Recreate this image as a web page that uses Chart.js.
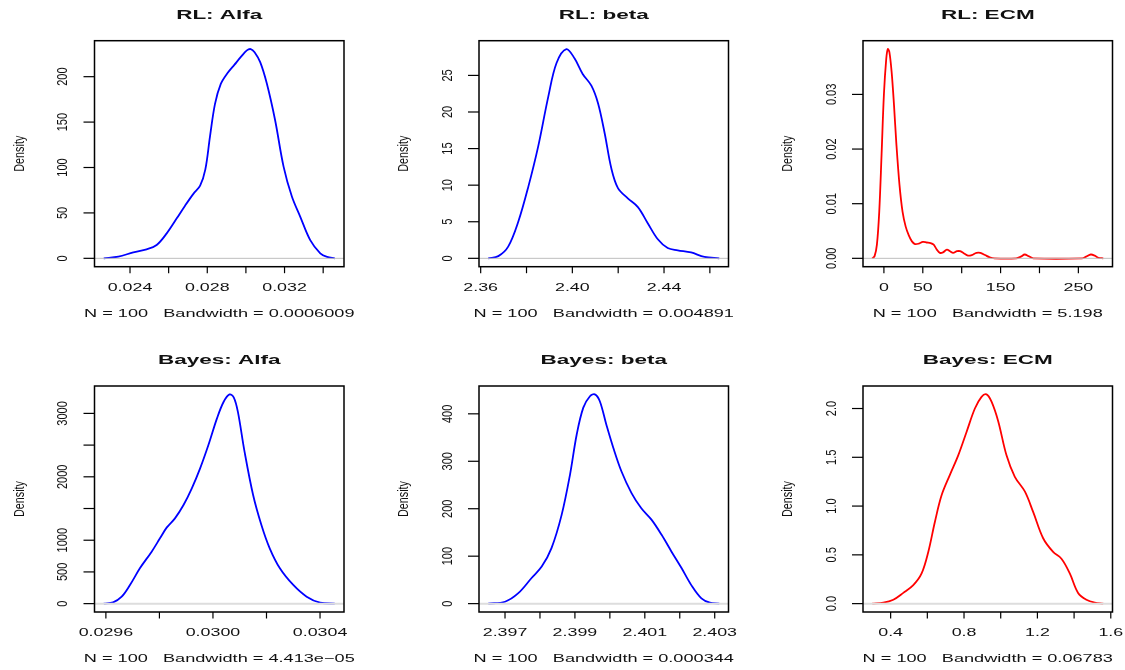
<!DOCTYPE html>
<html>
<head>
<meta charset="utf-8">
<script src="https://cdn.jsdelivr.net/npm/chart.js@4.4.0/dist/chart.umd.min.js"></script>
<style>
  html, body { margin: 0; padding: 0; background: #fff; overflow: hidden; }
  #wrap { position: relative; width: 1125px; height: 670px; }
  canvas { position: absolute; }
</style>
</head>
<body>
<div id="wrap"></div>
<script>
// density estimates, read off curve by curve
const rlAlfaX = [0.02264, 0.02340, 0.02417, 0.02486, 0.02538, 0.02590, 0.02642, 0.02685, 0.02728, 0.02763, 0.02790, 0.02814, 0.02840, 0.02870, 0.02905, 0.02940, 0.02975, 0.03005, 0.03025, 0.03045, 0.03074, 0.03108, 0.03151, 0.03195, 0.03238, 0.03281, 0.03333, 0.03385, 0.03420, 0.03460];
const rlAlfaY = [0, 1.8, 6.6, 9.9, 14.7, 27.5, 44, 58, 71, 80, 98, 134, 170, 192, 204, 213, 222, 229, 230.4, 227, 216, 192.7, 152.3, 101, 68, 46, 20, 5.5, 1.5, 0];

const rlBetaX = [2.3633, 2.3677, 2.3720, 2.3764, 2.3808, 2.3851, 2.3895, 2.3931, 2.3974, 2.4010, 2.4045, 2.4083, 2.4112, 2.4141, 2.4170, 2.4199, 2.4242, 2.4286, 2.4329, 2.4373, 2.4416, 2.4460, 2.4518, 2.4576, 2.4641];
const rlBetaY = [0, 0.3, 1.6, 5.0, 9.8, 15.3, 22.1, 26.7, 28.6, 27.3, 25.2, 23.6, 21.2, 17.1, 12.3, 9.6, 8.2, 7.0, 4.8, 2.6, 1.4, 1.1, 0.8, 0.2, 0];

const rlEcmX = [-15, -12, -9, -6, -3, 0, 3, 5, 7, 10, 13, 16, 20, 24, 28, 32, 36, 40, 45, 50, 55, 60, 64, 68, 72, 76, 81, 85, 89, 94, 98, 103, 108, 113, 119, 124, 130, 136, 142, 170, 176, 181, 186, 192, 255, 260, 266, 271, 276, 282];
const rlEcmY = [0, 0.0004, 0.0025, 0.0085, 0.019, 0.030, 0.0365, 0.0383, 0.0378, 0.034, 0.028, 0.021, 0.0135, 0.0085, 0.0058, 0.0042, 0.0031, 0.0026, 0.0027, 0.0030, 0.0029, 0.0028, 0.0025, 0.0016, 0.0010, 0.0011, 0.0016, 0.0013, 0.0010, 0.0013, 0.0013, 0.0009, 0.0005, 0.0006, 0.0010, 0.0010, 0.0006, 0.0002, 0, 0, 0.0003, 0.0007, 0.0004, 0, 0, 0.0003, 0.0007, 0.0005, 0.0001, 0];

const bayesAlfaX = [0.029592, 0.029627, 0.029659, 0.029690, 0.029727, 0.029771, 0.029802, 0.029827, 0.029858, 0.029890, 0.029921, 0.029952, 0.029983, 0.030015, 0.030040, 0.030062, 0.030078, 0.030093, 0.030118, 0.030150, 0.030181, 0.030212, 0.030250, 0.030300, 0.030350, 0.030400, 0.030455];
const bayesAlfaY = [0, 21, 110, 294, 557, 820, 1030, 1198, 1345, 1555, 1818, 2133, 2501, 2922, 3184, 3300, 3250, 3027, 2396, 1713, 1240, 872, 557, 294, 110, 16, 0];

const bayesBetaX = [2.39652, 2.39700, 2.39738, 2.39776, 2.39805, 2.39833, 2.39862, 2.39886, 2.39905, 2.39924, 2.39943, 2.39957, 2.39971, 2.39990, 2.40010, 2.40033, 2.40062, 2.40090, 2.40119, 2.40148, 2.40176, 2.40205, 2.40233, 2.40262, 2.40286, 2.40313];
const bayesBetaY = [0, 4, 22, 54, 78, 117, 187, 272, 356, 413, 437, 441, 427, 377, 328, 279, 233, 201, 177, 145, 110, 75, 39, 11, 2, 0];

const bayesEcmX = [0.2997, 0.3601, 0.4145, 0.4690, 0.5234, 0.5688, 0.6051, 0.6414, 0.6777, 0.7230, 0.7684, 0.8138, 0.8592, 0.8955, 0.9227, 0.9500, 0.9863, 1.0316, 1.0770, 1.1315, 1.1768, 1.2313, 1.2857, 1.3311, 1.3765, 1.4218, 1.4672, 1.5126, 1.5590];
const bayesEcmY = [0, 0.01, 0.04, 0.11, 0.19, 0.31, 0.53, 0.84, 1.11, 1.32, 1.52, 1.76, 2.00, 2.12, 2.145, 2.07, 1.87, 1.52, 1.30, 1.15, 0.94, 0.67, 0.53, 0.46, 0.31, 0.11, 0.04, 0.01, 0];

// titles and bandwidths
const titles = ['RL: Alfa', 'RL: beta', 'RL: ECM', 'Bayes: Alfa', 'Bayes: beta', 'Bayes: ECM'];
const bandwidths = ['0.0006009', '0.004891', '5.198', '4.413e\u221205', '0.000344', '0.06783'];
const sampleSize = 100;

// axis ticks (empty label = tick without text)
const rlAlfaXTicks = [0.024, 0.026, 0.028, 0.030, 0.032, 0.034];
const rlAlfaXLabels = ['0.024', '', '0.028', '', '0.032', ''];
const rlAlfaYTicks = [0, 50, 100, 150, 200];
const rlAlfaYLabels = ['0', '50', '100', '150', '200'];

const rlBetaXTicks = [2.36, 2.38, 2.40, 2.42, 2.44, 2.46];
const rlBetaXLabels = ['2.36', '', '2.40', '', '2.44', ''];
const rlBetaYTicks = [0, 5, 10, 15, 20, 25];
const rlBetaYLabels = ['0', '5', '10', '15', '20', '25'];

const rlEcmXTicks = [0, 50, 100, 150, 200, 250];
const rlEcmXLabels = ['0', '50', '', '150', '', '250'];
const rlEcmYTicks = [0, 0.01, 0.02, 0.03];
const rlEcmYLabels = ['0.00', '0.01', '0.02', '0.03'];

const bayesAlfaXTicks = [0.0296, 0.0298, 0.0300, 0.0302, 0.0304];
const bayesAlfaXLabels = ['0.0296', '', '0.0300', '', '0.0304'];
const bayesAlfaYTicks = [0, 500, 1000, 1500, 2000, 2500, 3000];
const bayesAlfaYLabels = ['0', '500', '1000', '', '2000', '', '3000'];

const bayesBetaXTicks = [2.397, 2.398, 2.399, 2.400, 2.401, 2.402, 2.403];
const bayesBetaXLabels = ['2.397', '', '2.399', '', '2.401', '', '2.403'];
const bayesBetaYTicks = [0, 100, 200, 300, 400];
const bayesBetaYLabels = ['0', '100', '200', '300', '400'];

const bayesEcmXTicks = [0.4, 0.6, 0.8, 1.0, 1.2, 1.4, 1.6];
const bayesEcmXLabels = ['0.4', '', '0.8', '', '1.2', '', '1.6'];
const bayesEcmYTicks = [0, 0.5, 1.0, 1.5, 2.0];
const bayesEcmYLabels = ['0.0', '0.5', '1.0', '1.5', '2.0'];

// page layout of the 2x3 grid
const COL_X = [94.5, 479, 863];
const ROW_Y = [40.7, 386];
const BOX_W = 249.5, BOX_H = 226;
const CV_W = 384, CV_H = 345;
const FONT = '"Liberation Sans", Arial, sans-serif';

function hText(ctx, str, x, y, font, sx) {
  ctx.save();
  ctx.font = font;
  ctx.textAlign = 'center';
  ctx.textBaseline = 'alphabetic';
  ctx.translate(x, y);
  ctx.scale(sx, 1);
  ctx.fillText(str, 0, 0);
  ctx.restore();
}

// rotated text reading bottom to top, x is the baseline
function vText(ctx, str, x, y, font, sAcross) {
  ctx.save();
  ctx.translate(x, y);
  ctx.rotate(-Math.PI / 2);
  ctx.scale(1, sAcross);
  ctx.font = font;
  ctx.textAlign = 'center';
  ctx.textBaseline = 'alphabetic';
  ctx.fillText(str, 0, 0);
  ctx.restore();
}

// base-graphics look: box, outward ticks, rotated y labels, gray zero line
const rFrame = {
  id: 'rFrame',
  afterDatasetsDraw(chart, args, opts) {
    const ctx = chart.ctx, a = chart.chartArea;
    const y0 = chart.scales.y.getPixelForValue(0);
    ctx.save();
    ctx.strokeStyle = opts.zeroColor;
    ctx.lineWidth = opts.zeroWidth;
    ctx.beginPath();
    ctx.moveTo(a.left, y0);
    ctx.lineTo(a.right, y0);
    ctx.stroke();
    ctx.restore();
  },
  afterDraw(chart, args, opts) {
    const ctx = chart.ctx, a = chart.chartArea;
    const xs = chart.scales.x, ys = chart.scales.y;
    ctx.save();
    ctx.strokeStyle = '#000';
    ctx.lineWidth = 1.5;
    ctx.strokeRect(a.left, a.top, a.right - a.left, a.bottom - a.top);

    ctx.lineWidth = 1.2;
    ctx.fillStyle = '#111';
    opts.xTicks.forEach((v, i) => {
      const px = xs.getPixelForValue(v);
      ctx.beginPath();
      ctx.moveTo(px, a.bottom);
      ctx.lineTo(px, a.bottom + 6.5);
      ctx.stroke();
      if (opts.xLabels[i]) hText(ctx, opts.xLabels[i], px, a.bottom + 24, '11px ' + FONT, 1.62);
    });
    opts.yTicks.forEach((v, i) => {
      const py = ys.getPixelForValue(v);
      ctx.beginPath();
      ctx.moveTo(a.left - 11, py);
      ctx.lineTo(a.left, py);
      ctx.stroke();
      if (opts.yLabels[i]) vText(ctx, opts.yLabels[i], a.left - 27.5, py, '11px ' + FONT, 1.3);
    });

    const cx = (a.left + a.right) / 2;
    hText(ctx, opts.title, cx, a.top - 22, 'bold 12.5px ' + FONT, 1.8);
    hText(ctx, 'N = ' + sampleSize + '   Bandwidth = ' + opts.bw, cx, a.bottom + 50, '11px ' + FONT, 1.65);
    vText(ctx, 'Density', a.left - 71, (a.top + a.bottom) / 2, '10.8px ' + FONT, 1.3);
    ctx.restore();
  }
};

const panels = [
  { x: rlAlfaX, y: rlAlfaY, xt: rlAlfaXTicks, xl: rlAlfaXLabels, yt: rlAlfaYTicks, yl: rlAlfaYLabels, color: '#0000ff' },
  { x: rlBetaX, y: rlBetaY, xt: rlBetaXTicks, xl: rlBetaXLabels, yt: rlBetaYTicks, yl: rlBetaYLabels, color: '#0000ff' },
  { x: rlEcmX, y: rlEcmY, xt: rlEcmXTicks, xl: rlEcmXLabels, yt: rlEcmYTicks, yl: rlEcmYLabels, color: '#ff0000' },
  { x: bayesAlfaX, y: bayesAlfaY, xt: bayesAlfaXTicks, xl: bayesAlfaXLabels, yt: bayesAlfaYTicks, yl: bayesAlfaYLabels, color: '#0000ff' },
  { x: bayesBetaX, y: bayesBetaY, xt: bayesBetaXTicks, xl: bayesBetaXLabels, yt: bayesBetaYTicks, yl: bayesBetaYLabels, color: '#0000ff' },
  { x: bayesEcmX, y: bayesEcmY, xt: bayesEcmXTicks, xl: bayesEcmXLabels, yt: bayesEcmYTicks, yl: bayesEcmYLabels, color: '#ff0000' }
];

const wrap = document.getElementById('wrap');

panels.forEach((p, k) => {
  const col = k % 3, row = Math.floor(k / 3);
  const cv = document.createElement('canvas');
  cv.width = CV_W;
  cv.height = CV_H;
  cv.style.left = (col * CV_W) + 'px';
  cv.style.top = (row * CV_H) + 'px';
  wrap.appendChild(cv);

  const padL = COL_X[col] - col * CV_W;
  const padT = ROW_Y[row] - row * CV_H;

  // 4% extension on both axes, as plot.default does
  const xmin = Math.min(...p.x), xmax = Math.max(...p.x);
  const ymax = Math.max(...p.y);
  const dx = (xmax - xmin) * 0.04;

  new Chart(cv, {
    type: 'line',
    data: {
      datasets: [{
        data: p.x.map((v, i) => ({ x: v, y: p.y[i] })),
        borderColor: p.color,
        borderWidth: 1.8,
        pointRadius: 0,
        fill: false,
        tension: 0.35
      }]
    },
    options: {
      responsive: false,
      animation: false,
      events: [],
      layout: {
        padding: { left: padL, top: padT, right: CV_W - padL - BOX_W, bottom: CV_H - padT - BOX_H }
      },
      scales: {
        x: { type: 'linear', min: xmin - dx, max: xmax + dx, display: false },
        y: { type: 'linear', min: -0.04 * ymax, max: 1.04 * ymax, display: false }
      },
      plugins: {
        legend: { display: false },
        tooltip: { enabled: false },
        rFrame: {
          title: titles[k],
          bw: bandwidths[k],
          xTicks: p.xt, xLabels: p.xl,
          yTicks: p.yt, yLabels: p.yl,
          zeroColor: row === 0 ? '#bebebe' : '#dddddd',
          zeroWidth: row === 0 ? 1 : 2
        }
      }
    },
    plugins: [rFrame]
  });
});
</script>
</body>
</html>
